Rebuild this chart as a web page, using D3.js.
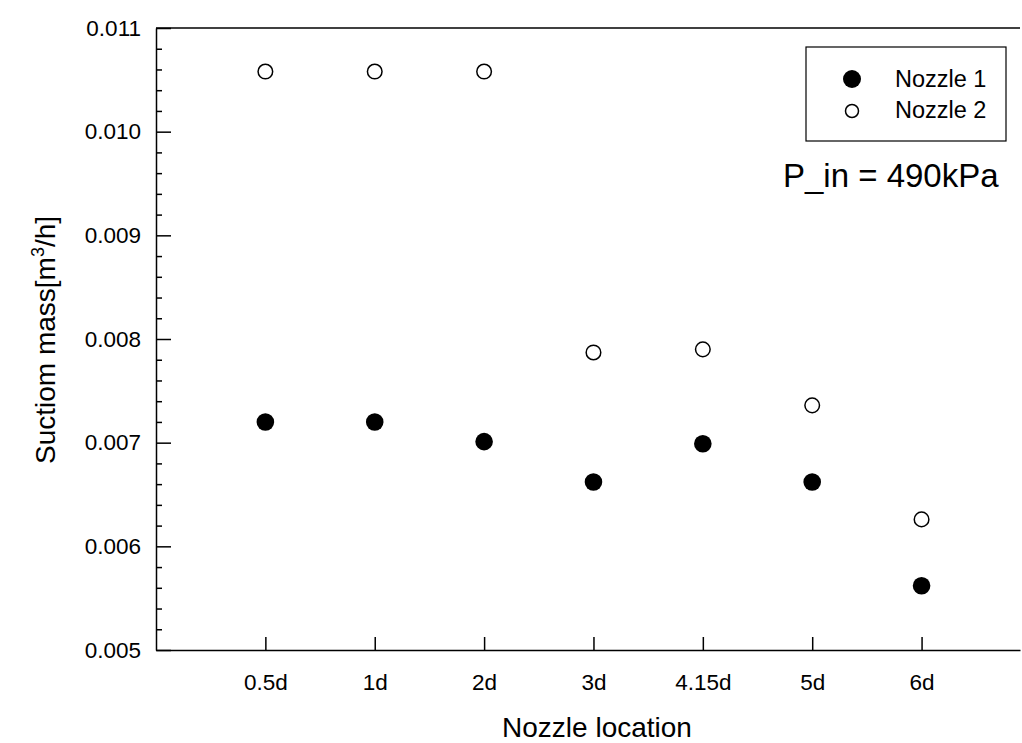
<!DOCTYPE html>
<html>
<head>
<meta charset="utf-8">
<script src="https://cdn.jsdelivr.net/npm/d3@7"></script>
<style>
  body { margin: 0; background: #fff; }
  text { font-family: Arial, "Liberation Sans", sans-serif; fill: #000; }
</style>
</head>
<body>
<div id="chart"></div>
<script>
// data
const locations = ["0.5d", "1d", "2d", "3d", "4.15d", "5d", "6d"];
const nozzle1 = [0.00720, 0.00720, 0.00701, 0.00662, 0.00699, 0.00662, 0.00562];
const nozzle2 = [0.01058, 0.01058, 0.01058, 0.00787, 0.00790, 0.00736, 0.00626];
const yTicks = [0.005, 0.006, 0.007, 0.008, 0.009, 0.010, 0.011];

const width = 1022;
const height = 743;
const margins = { top: 28, right: 2, bottom: 93, left: 156 };

const svg = d3.select("#chart").append("svg")
    .attr("width", width)
    .attr("height", height);

const x = d3.scaleLinear()
    .domain([-1, 6.9])
    .range([margins.left, width - margins.right]);

const y = d3.scaleLinear()
    .domain([0.005, 0.011])
    .range([height - margins.bottom, margins.top]);

// top frame line
svg.append("line")
    .attr("x1", margins.left).attr("x2", width - margins.right)
    .attr("y1", y(0.011)).attr("y2", y(0.011))
    .attr("stroke", "#000").attr("stroke-width", 1.5);

// x axis
const xAxis = svg.append("g")
    .attr("transform", `translate(0,${y(0.005)})`)
    .call(d3.axisBottom(x)
        .tickValues(d3.range(locations.length))
        .tickFormat(i => locations[i])
        .tickSizeInner(-13)
        .tickSizeOuter(0)
        .tickPadding(24));
xAxis.select(".domain").attr("stroke-width", 1.5);
xAxis.selectAll(".tick line").attr("stroke-width", 1.5);
xAxis.selectAll("text").style("font-size", "22.5px");

// y axis minor ticks
const yMinor = d3.range(0.005, 0.01101, 0.0002).filter(v => Math.abs(Math.round(v * 1000) - v * 1000) > 1e-6);
svg.append("g")
    .attr("transform", `translate(${margins.left},0)`)
    .call(d3.axisRight(y).tickValues(yMinor).tickSize(6).tickFormat(""))
    .call(g => g.select(".domain").remove())
    .selectAll("line").attr("stroke-width", 1.5);

// y axis major
const yAxis = svg.append("g")
    .attr("transform", `translate(${margins.left},0)`)
    .call(d3.axisLeft(y)
        .tickValues(yTicks)
        .tickFormat(d3.format(".3f"))
        .tickSizeInner(0)
        .tickSizeOuter(0)
        .tickPadding(15));
yAxis.select(".domain").attr("stroke-width", 1.5);
yAxis.selectAll("text").style("font-size", "22.5px");
yAxis.selectAll(".tick").append("line")
    .attr("x1", 0).attr("x2", 15)
    .attr("stroke", "#000").attr("stroke-width", 1.5);

// axis titles
svg.append("text")
    .attr("x", 597)
    .attr("y", 737)
    .attr("text-anchor", "middle")
    .style("font-size", "28px")
    .text("Nozzle location");

const yTitle = svg.append("text")
    .attr("transform", "translate(55,340) rotate(-90)")
    .attr("text-anchor", "middle")
    .style("font-size", "28px");
yTitle.append("tspan").text("Suctiom mass[m");
yTitle.append("tspan").attr("dy", -11).style("font-size", "18px").text("3");
yTitle.append("tspan").attr("dy", 11).text("/h]");

// points
svg.append("g").selectAll("circle")
    .data(nozzle1)
    .join("circle")
    .attr("cx", (d, i) => x(i))
    .attr("cy", d => y(d))
    .attr("r", 8.8)
    .attr("fill", "#000");

svg.append("g").selectAll("circle")
    .data(nozzle2)
    .join("circle")
    .attr("cx", (d, i) => x(i))
    .attr("cy", d => y(d))
    .attr("r", 7.3)
    .attr("fill", "#fff")
    .attr("stroke", "#000")
    .attr("stroke-width", 1.5);

// legend
const legend = svg.append("g").attr("transform", "translate(806,47)");
legend.append("rect")
    .attr("width", 200).attr("height", 94)
    .attr("fill", "#fff").attr("stroke", "#000").attr("stroke-width", 1.2);
legend.append("circle").attr("cx", 46).attr("cy", 32).attr("r", 9).attr("fill", "#000");
legend.append("circle").attr("cx", 46).attr("cy", 64).attr("r", 6.5)
    .attr("fill", "#fff").attr("stroke", "#000").attr("stroke-width", 1.5);
legend.append("text").attr("x", 89).attr("y", 40).style("font-size", "23.5px").text("Nozzle 1");
legend.append("text").attr("x", 89).attr("y", 71).style("font-size", "23.5px").text("Nozzle 2");

svg.append("text")
    .attr("x", 783)
    .attr("y", 187)
    .style("font-size", "33px")
    .text("P_in = 490kPa");
</script>
</body>
</html>
